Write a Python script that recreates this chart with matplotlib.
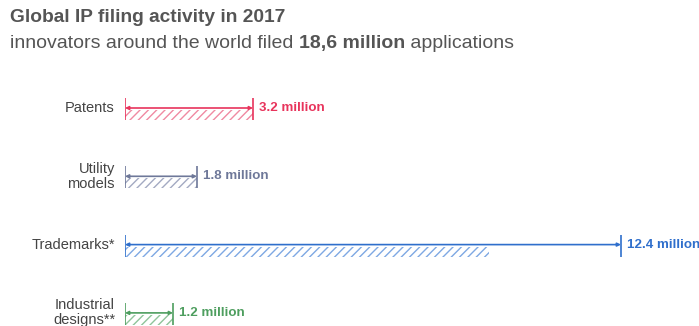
import matplotlib
matplotlib.use("Agg")
import matplotlib.pyplot as plt
from matplotlib.text import Annotation

categories = ["Patents", "Utility\nmodels", "Trademarks*", "Industrial\ndesigns**"]
values = [3.2, 1.8, 12.4, 1.2]
hatch_extent = [3.2, 1.8, 9.1, 1.2]
value_labels = ["3.2 million", "1.8 million", "12.4 million", "1.2 million"]
colors = ["#e8345c", "#6e7899", "#2f6fcc", "#4e9e5f"]
hatch_colors = ["#f08aa2", "#a3aac2", "#7ea8e3", "#8fc49a"]

title = "Global IP filing activity in 2017"
sub_parts = [("innovators around the world filed ", "normal"),
             ("18,6 million", "bold"),
             (" applications", "normal")]

W, H = 699, 326
plt.rcParams["font.family"] = ["Liberation Sans", "DejaVu Sans"]
plt.rcParams["hatch.linewidth"] = 1.0

fig = plt.figure(figsize=(W / 100, H / 100), dpi=100)
x0_px = 125
px_per_m = 40.0
row0_px = 108
row_px = 68.3
ax = fig.add_axes([x0_px / W, 0, 1 - x0_px / W, 1])
ax.set_xlim(0, (W - x0_px) / px_per_m)
ax.set_ylim((H - row0_px) / row_px, -row0_px / row_px)
ax.axis("off")

up = 10 / row_px
down = 12 / row_px
hatch_top = 2 / row_px
for i, (cat, v, he, lab, c, hc) in enumerate(zip(categories, values, hatch_extent, value_labels, colors, hatch_colors)):
    ax.barh(i + (hatch_top + down) / 2, he, height=down - hatch_top, left=0,
            facecolor="none", edgecolor=hc, hatch="////", linewidth=0)
    ax.vlines([0, v], i - up, i + down, colors=c, linewidth=1.2)
    ax.annotate("", xy=(v, i), xytext=(0, i),
                arrowprops=dict(arrowstyle="<|-|>", color=c, lw=1.2,
                                mutation_scale=5, shrinkA=0, shrinkB=0))
    ax.text(v + 6 / px_per_m, i, lab, color=c, fontsize=9.6, fontweight="bold",
            ha="left", va="center", clip_on=False)
    ax.text(-10 / px_per_m, i, cat, color="#444444", fontsize=10.5,
            ha="right", va="center", linespacing=1.1, clip_on=False)

fig.text(10 / W, 1 - 22 / H, title, fontsize=13.8, fontweight="bold",
         color="#555555", ha="left", va="baseline")

cur = fig.text(10 / W, 1 - 48 / H, sub_parts[0][0], fontsize=14,
               fontweight=sub_parts[0][1], color="#555555", ha="left", va="baseline")
for txt, wt in sub_parts[1:]:
    cur = fig.add_artist(Annotation(
        txt, xy=(1, 0), xycoords=cur, xytext=(0, 0), textcoords="offset points",
        fontsize=14, fontweight=wt, color="#555555", ha="left", va="bottom"))

fig.savefig("out.png", dpi=100)
